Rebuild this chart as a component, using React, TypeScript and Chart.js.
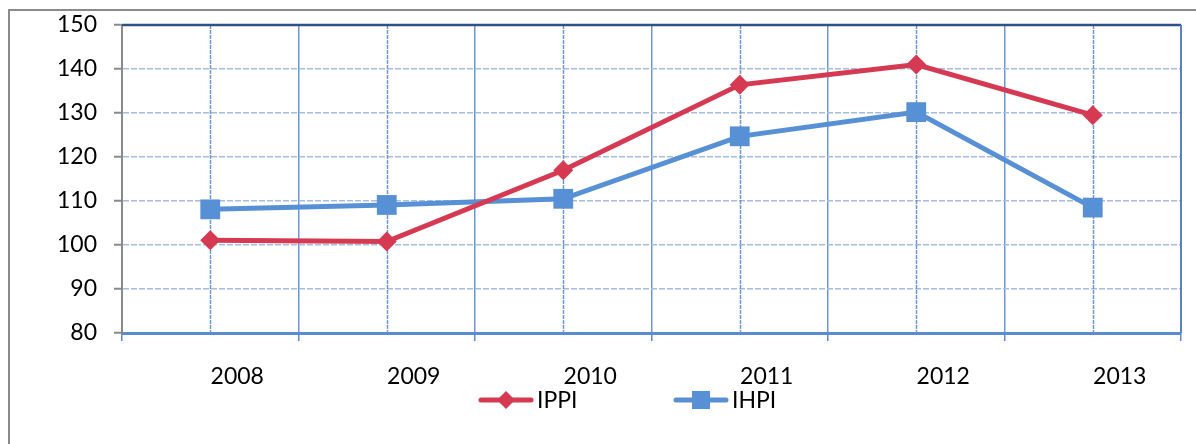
import React, { useEffect, useRef } from "react";
import { Chart, registerables } from "chart.js";

Chart.register(...registerables);

const years = ["2008", "2009", "2010", "2011", "2012", "2013"];
const ippi = [101.1, 100.8, 117.0, 136.4, 141.0, 129.5];
const ihpi = [108.1, 109.1, 110.5, 124.7, 130.2, 108.5];
const yTicks = [80, 90, 100, 110, 120, 130, 140, 150];

const RED = "#d63a53";
const BLUE = "#5890d6";
const FONT = "Lato, 'Noto Sans', sans-serif";

const decor = {
  id: "decor",
  beforeDraw(chart: any) {
    const ctx = chart.ctx;
    ctx.save();
    ctx.strokeStyle = "#8a8a8a";
    ctx.lineWidth = 2;
    ctx.beginPath();
    ctx.moveTo(9, chart.height + 5);
    ctx.lineTo(9, 10);
    ctx.lineTo(chart.width + 5, 10);
    ctx.stroke();
    ctx.restore();
  },
  beforeDatasetsDraw(chart: any) {
    const ctx = chart.ctx;
    const { top, bottom, left, right } = chart.chartArea;
    const x = chart.scales.x;
    ctx.save();
    ctx.strokeStyle = "#6f97cf";
    ctx.lineWidth = 1.5;
    ctx.setLineDash([4, 1]);
    years.forEach((_, i) => {
      const px = Math.round(x.getPixelForValue(i)) + 0.5;
      ctx.beginPath();
      ctx.moveTo(px, top);
      ctx.lineTo(px, bottom);
      ctx.stroke();
    });
    ctx.setLineDash([]);
    ctx.strokeStyle = "#2d5088";
    ctx.lineWidth = 2.5;
    ctx.beginPath();
    ctx.moveTo(left, top);
    ctx.lineTo(right, top);
    ctx.stroke();
    ctx.lineWidth = 2;
    ctx.strokeStyle = "#5b82bf";
    ctx.beginPath();
    ctx.moveTo(right, top);
    ctx.lineTo(right, bottom);
    ctx.stroke();
    ctx.restore();
  },
  afterDraw(chart: any) {
    const ctx = chart.ctx;
    const items = [
      { label: "IPPI", color: RED, style: "diamond", x: 479 },
      { label: "IHPI", color: BLUE, style: "square", x: 674 },
    ];
    const y = 400;
    ctx.save();
    items.forEach((it) => {
      ctx.strokeStyle = it.color;
      ctx.fillStyle = it.color;
      ctx.lineWidth = 5;
      ctx.lineCap = "round";
      ctx.beginPath();
      ctx.moveTo(it.x + 2, y);
      ctx.lineTo(it.x + 52, y);
      ctx.stroke();
      const cx = it.x + 27;
      ctx.beginPath();
      if (it.style === "diamond") {
        ctx.moveTo(cx, y - 9);
        ctx.lineTo(cx + 9, y);
        ctx.lineTo(cx, y + 9);
        ctx.lineTo(cx - 9, y);
        ctx.closePath();
      } else {
        ctx.rect(cx - 9, y - 9, 18, 18);
      }
      ctx.fill();
      ctx.fillStyle = "#000";
      ctx.font = `23px ${FONT}`;
      ctx.textBaseline = "middle";
      ctx.textAlign = "left";
      ctx.fillText(it.label, it.x + 58, y + 1);
    });
    ctx.restore();
  },
};

export default function App() {
  const ref = useRef<HTMLCanvasElement>(null);
  useEffect(() => {
    if (!ref.current) return;
    const chart = new Chart(ref.current, {
      type: "line",
      data: {
        labels: years,
        datasets: [
          {
            label: "IPPI",
            data: ippi,
            borderColor: RED,
            backgroundColor: RED,
            borderWidth: 5,
            pointStyle: "rectRot",
            pointRadius: 10,
            pointBorderWidth: 0,
            pointBackgroundColor: RED,
            tension: 0,
          },
          {
            label: "IHPI",
            data: ihpi,
            borderColor: BLUE,
            backgroundColor: BLUE,
            borderWidth: 5,
            pointStyle: "rect",
            pointRadius: 14,
            pointBorderWidth: 0,
            pointBackgroundColor: BLUE,
            tension: 0,
          },
        ],
      },
      options: {
        responsive: false,
        animation: false,
        layout: { padding: { left: 0, top: 25, right: 15, bottom: 0 } },
        plugins: {
          legend: { display: false },
          tooltip: { enabled: false },
          title: { display: false },
        },
        scales: {
          x: {
            type: "category",
            offset: true,
            afterFit: (s: any) => {
              s.height = 111;
            },
            grid: {
              offset: true,
              color: "#6f97cf",
              lineWidth: 1.5,
              tickLength: 8,
              tickColor: "#5b8bd0",
              drawTicks: true,
            },
            border: { color: "#5b8bd0", width: 3 },
            ticks: {
              color: "#000",
              font: { family: FONT, size: 23 },
              padding: 22,
              labelOffset: 27,
              maxRotation: 0,
              autoSkip: false,
            },
          },
          y: {
            min: 80,
            max: 150,
            afterFit: (s: any) => {
              s.width = 122;
              s.paddingTop = 0;
              s.paddingBottom = 0;
            },
            afterBuildTicks: (s: any) => {
              s.ticks = yTicks.map((v) => ({ value: v }));
            },
            grid: {
              color: "#a5bde0",
              lineWidth: 1.5,
              tickLength: 8,
              tickColor: "#8a8a8a",
              tickWidth: 2,
            },
            border: { color: "#8a8a8a", width: 2, dash: [6, 2] },
            ticks: {
              color: "#000",
              font: { family: FONT, size: 23 },
              padding: 17,
            },
          },
        },
      },
      plugins: [decor],
    });
    return () => chart.destroy();
  }, []);
  return (
    <div style={{ position: "absolute", left: 0, top: 0, width: 1196, height: 444 }}>
      <canvas ref={ref} width={1196} height={444} style={{ display: "block" }} />
    </div>
  );
}
